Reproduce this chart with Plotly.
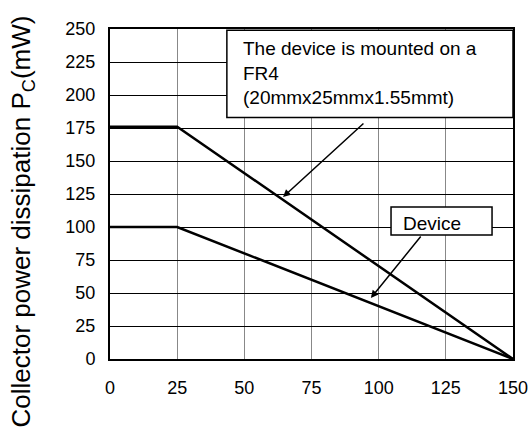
import plotly.graph_objects as go

# Data
temp_board = [0, 25, 150]
pc_board = [176, 176, 0]
temp_device = [0, 25, 150]
pc_device = [100, 100, 0]
x_ticks = [0, 25, 50, 75, 100, 125, 150]
y_ticks = [0, 25, 50, 75, 100, 125, 150, 175, 200, 225, 250]

FONT = "Arial, Liberation Sans, sans-serif"

fig = go.Figure()
fig.add_trace(go.Scatter(x=temp_board, y=pc_board, mode="lines",
                         line=dict(color="black", width=2.5), showlegend=False))
fig.add_trace(go.Scatter(x=temp_device, y=pc_device, mode="lines",
                         line=dict(color="black", width=2.5), showlegend=False))

fig.update_layout(
    width=532, height=436,
    margin=dict(l=110, r=19, t=29, b=77),
    paper_bgcolor="white", plot_bgcolor="white",
    font=dict(family=FONT, size=18, color="black"),
    showlegend=False,
)
fig.update_xaxes(range=[0, 150], tickvals=x_ticks, ticks="", showgrid=True,
                 gridcolor="#888888", gridwidth=1, showline=True, linecolor="black",
                 linewidth=2, mirror=True, zeroline=False, ticklabelstandoff=11,
                 tickfont=dict(size=18), automargin=False, ticklabeloverflow="allow")
fig.update_yaxes(range=[0, 250], tickvals=y_ticks, ticks="", showgrid=True,
                 gridcolor="black", gridwidth=1, showline=True, linecolor="black",
                 linewidth=2, mirror=True, zeroline=False, ticklabelstandoff=9,
                 tickfont=dict(size=18), automargin=False, ticklabeloverflow="allow")

# Boxes
fig.add_shape(type="rect", x0=43.5, x1=150, y0=183, y1=249, xref="x", yref="y",
              fillcolor="white", line=dict(color="black", width=1.5), layer="above")
fig.add_shape(type="rect", x0=104.6, x1=142.2, y0=94, y1=115.2, xref="x", yref="y",
              fillcolor="white", line=dict(color="black", width=1.5), layer="above")

fig.add_annotation(x=48.9, y=216.7, xref="x", yref="y", xanchor="left", yanchor="middle",
                   text="The device is mounted on a<br>FR4<br>(20mmx25mmx1.55mmt)",
                   align="left", showarrow=False, font=dict(size=19))
fig.add_annotation(x=119.7, y=103, xref="x", yref="y", xanchor="center", yanchor="middle",
                   text="Device", showarrow=False, font=dict(size=19))

# Arrows
fig.add_annotation(x=64.4, y=122.7, ax=94.9, ay=179.5, xref="x", yref="y",
                   axref="x", ayref="y", text="", showarrow=True,
                   arrowhead=2, arrowsize=1, arrowwidth=1.5, arrowcolor="black")
fig.add_annotation(x=97.1, y=46.2, ax=116.1, ay=93.9, xref="x", yref="y",
                   axref="x", ayref="y", text="", showarrow=True,
                   arrowhead=2, arrowsize=1, arrowwidth=1.5, arrowcolor="black")

# Y-axis title
fig.add_annotation(x=-0.218, y=0.417, xref="paper", yref="paper",
                   xanchor="center", yanchor="middle", textangle=-90,
                   text="Collector power dissipation P<sub>C</sub>(mW)",
                   showarrow=False, font=dict(size=26))

# remove the browser's default 8px body margin so the figure fills the window
fig.write_html("out.html", config={"displayModeBar": False},
               post_script="document.body.style.margin='0px';")
